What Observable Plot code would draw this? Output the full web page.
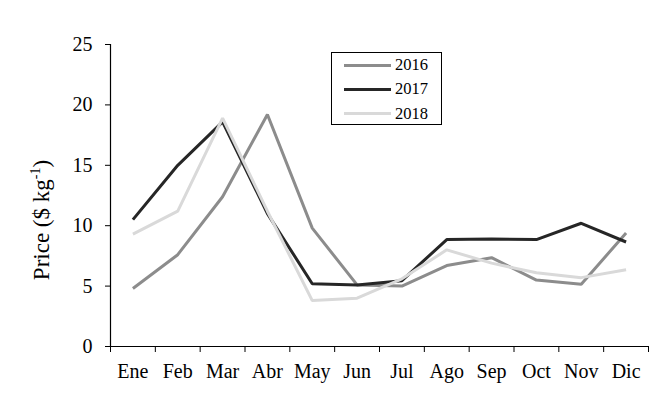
<!DOCTYPE html>
<html>
<head>
<meta charset="utf-8">
<script src="https://cdn.jsdelivr.net/npm/d3@7"></script>
<script src="https://cdn.jsdelivr.net/npm/@observablehq/plot@0.6"></script>
<style>
  html, body { margin: 0; padding: 0; background: #fff; }
  #wrap { position: relative; width: 663px; height: 394px; font-family: "Liberation Serif", serif; color: #000; }
  #ylabel { position: absolute; left: 42px; top: 220px; transform: translate(-50%, -50%) rotate(-90deg); white-space: nowrap; font-size: 23px; }
  #ylabel sup { font-size: 14px; vertical-align: 9px; line-height: 0; }
  #legend { position: absolute; left: 331px; top: 52px; width: 109px; height: 71px; border: 1px solid #000; background: #fff; box-sizing: content-box; }
  .row { position: absolute; left: 12px; height: 20px; display: flex; align-items: center; font-size: 16.5px; }
  .sw { display: inline-block; width: 47px; height: 3px; margin-right: 4px; }
</style>
</head>
<body>
<div id="wrap"></div>
<script>
const months = ["Ene", "Feb", "Mar", "Abr", "May", "Jun", "Jul", "Ago", "Sep", "Oct", "Nov", "Dic"];
const years = ["2016", "2017", "2018"];
const colors = ["#8c8c8c", "#262626", "#d9d9d9"];
const price2016 = [4.8, 7.6, 12.4, 19.2, 9.8, 5.1, 5.0, 6.7, 7.35, 5.5, 5.15, 9.4];
const price2017 = [10.5, 15.0, 18.6, 11.0, 5.2, 5.1, 5.45, 8.85, 8.9, 8.85, 10.2, 8.65];
const price2018 = [9.3, 11.2, 18.9, 11.2, 3.8, 4.0, 5.6, 8.0, 6.9, 6.1, 5.7, 6.35];
const yTicks = [0, 5, 10, 15, 20, 25];

const series = [price2016, price2017, price2018];
const rows = years.flatMap((yr, k) => series[k].map((v, i) => ({year: yr, i, v})));
const monthIdx = months.map((m, i) => i);
const edges = d3.range(months.length + 1).map(i => i - 0.5);

const chart = Plot.plot({
  width: 663,
  height: 394,
  marginLeft: 110,
  marginRight: 15,
  marginTop: 44,
  marginBottom: 48,
  style: {fontFamily: "Liberation Serif, serif", fontSize: "20px", background: "#fff", color: "#000"},
  x: {type: "linear", domain: [-0.5, months.length - 0.5]},
  y: {domain: [0, 25]},
  color: {domain: years, range: colors},
  marks: [
    Plot.axisY({ticks: yTicks, tickSize: 5, tickPadding: 13, label: null, fontSize: 20}),
    Plot.axisX({ticks: edges, tickSize: 6, tickFormat: () => "", label: null}),
    Plot.axisX({ticks: monthIdx, tickSize: 0, tickPadding: 17, tickFormat: i => months[i], label: null, fontSize: 20}),
    Plot.ruleY([0], {stroke: "#000", strokeWidth: 1.2}),
    Plot.ruleX([-0.5], {stroke: "#000", strokeWidth: 1.2}),
    Plot.line(rows, {x: "i", y: "v", z: "year", stroke: "year", strokeWidth: 3, strokeLinejoin: "miter", strokeLinecap: "butt"})
  ]
});

const wrap = document.getElementById("wrap");
wrap.appendChild(chart);

const yl = document.createElement("div");
yl.id = "ylabel";
yl.innerHTML = "Price ($ kg<sup>-1</sup>)";
wrap.appendChild(yl);

const lg = document.createElement("div");
lg.id = "legend";
years.forEach((yr, k) => {
  const r = document.createElement("div");
  r.className = "row";
  r.style.top = (2 + k * 24.3) + "px";
  const sw = document.createElement("span");
  sw.className = "sw";
  sw.style.background = colors[k];
  const t = document.createElement("span");
  t.textContent = yr;
  r.appendChild(sw);
  r.appendChild(t);
  lg.appendChild(r);
});
wrap.appendChild(lg);
</script>
</body>
</html>
